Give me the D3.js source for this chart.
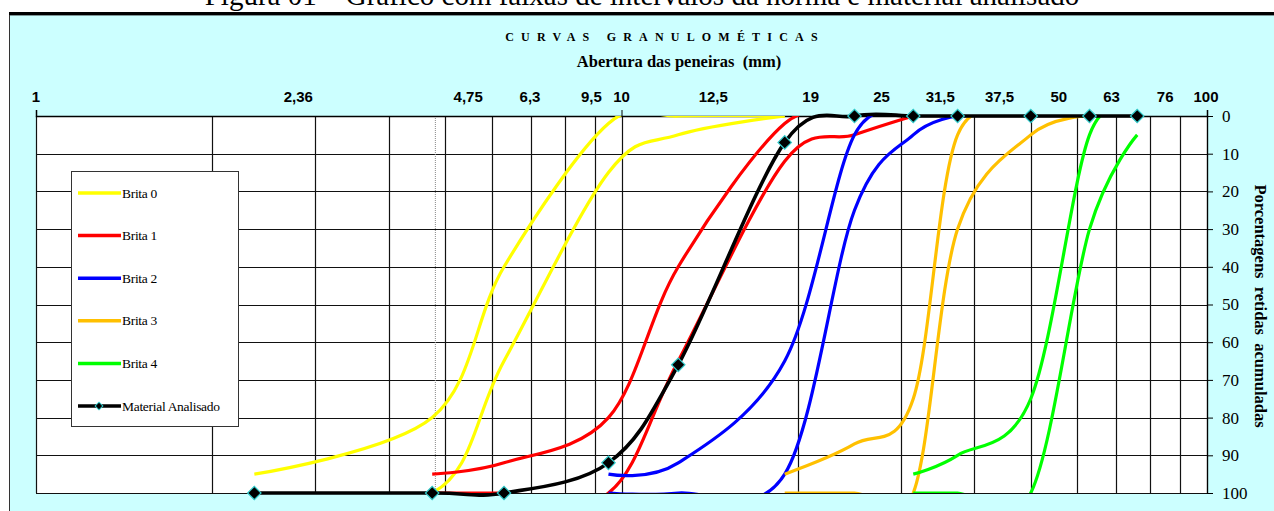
<!DOCTYPE html>
<html>
<head>
<meta charset="utf-8">
<script src="https://cdn.jsdelivr.net/npm/d3@7/dist/d3.min.js"></script>
<style>
    body { margin: 0; background: #fff; }
    svg { display: block; }
</style>
</head>
<body>
<svg id="chart" width="1274" height="511"></svg>
<script>

// Abertura das peneiras (mm)
var sieves = [2.36, 4.75, 6.3, 9.5, 12.5, 19, 25, 31.5, 37.5, 50, 63, 76];

// Porcentagens retidas acumuladas - limites da norma (null = sem valor)
var brita0Inf = [95, 80, 40, 2, 0, 0, null, null, null, null, null, null];
var brita0Sup = [100, 100, 65, 15, 5, 0, null, null, null, null, null, null];
var brita1Inf = [null, 95, 92, 80, 40, 2, 0, null, null, null, null, null];
var brita1Sup = [null, 100, 100, 100, 65, 12, 5, 0, null, null, null, null];
var brita2Inf = [null, null, null, 95, 92, 65, 5, 0, null, null, null, null];
var brita2Sup = [null, null, null, 100, 100, 95, 25, 5, 0, null, null, null];
var brita3Inf = [null, null, null, null, null, 95, 87, 75, 5, 0, null, null];
var brita3Sup = [null, null, null, null, null, 100, 100, 100, 30, 5, 0, null];
var brita4Inf = [null, null, null, null, null, null, null, 95, 90, 75, 5, 0];
var brita4Sup = [null, null, null, null, null, null, null, 100, 100, 100, 30, 5];

// Material analisado
var material = [100, 100, 100, 92, 66, 7, 0, 0, 0, 0, 0, 0];

var seriesNames = ["Brita 0", "Brita 1", "Brita 2", "Brita 3", "Brita 4"];
var seriesColors = ["#FFFF00", "#FF0000", "#0000FF", "#FFC000", "#00FF00"];
var seriesLimits = [
    [brita0Inf, brita0Sup],
    [brita1Inf, brita1Sup],
    [brita2Inf, brita2Sup],
    [brita3Inf, brita3Sup],
    [brita4Inf, brita4Sup]
];

// rotulos do eixo superior (digitados no grafico original)
var topLabels = ["1", "2,36", "4,75", "6,3", "9,5", "10", "12,5", "19", "25", "31,5", "37,5", "50", "63", "76", "100"];
var topLabelValues = [1, 2.36, 4.75, 6.3, 9.5, 10, 12.5, 19, 25, 31.5, 37.5, 50, 63, 76, 100];
var topLabelNudge = [0, 44, 36, 26, -17, 0, 35, 26, 27, 27, 42, 28, 22, 28, -1];

var yTicks = [0, 10, 20, 30, 40, 50, 60, 70, 80, 90, 100];

var svg = d3.select("#chart");

var plot = { left: 36, right: 1207, top: 116, bottom: 493 };

var x = d3.scaleLog().domain([1, 100]).range([plot.left, plot.right]);
var y = d3.scaleLinear().domain([0, 100]).range([plot.top, plot.bottom]);

// titulo da figura (cortado no topo, como no original)
svg.append("text")
    .attr("x", 642)
    .attr("y", 5)
    .attr("text-anchor", "middle")
    .style("font-family", "'Liberation Serif', 'Times New Roman', serif")
    .style("font-size", "29px")
    .text("Figura 01 – Gráfico com faixas de intervalos da norma e material analisado");

// fundo do grafico
svg.append("rect")
    .attr("x", 9.5)
    .attr("y", 15)
    .attr("width", 1270)
    .attr("height", 500)
    .style("fill", "#CCFFFF")
    .style("stroke", "#333")
    .style("stroke-width", 1);

svg.append("line")
    .attr("x1", 9).attr("x2", 1274)
    .attr("y1", 13.5).attr("y2", 13.5)
    .style("stroke", "#000")
    .style("stroke-width", 3);

svg.append("text")
    .attr("x", 665)
    .attr("y", 41)
    .attr("text-anchor", "middle")
    .style("font-family", "'Liberation Serif', serif")
    .style("font-weight", "bold")
    .style("font-size", "12px")
    .style("letter-spacing", "7.2px")
    .text("CURVAS GRANULOMÉTICAS");

svg.append("text")
    .attr("x", 679)
    .attr("y", 67)
    .attr("text-anchor", "middle")
    .style("font-family", "'Liberation Serif', serif")
    .style("font-weight", "bold")
    .style("font-size", "16.5px")
    .style("white-space", "pre")
    .text("Abertura das peneiras  (mm)");

// area de plotagem
svg.append("rect")
    .attr("x", plot.left)
    .attr("y", plot.top)
    .attr("width", plot.right - plot.left)
    .attr("height", plot.bottom - plot.top)
    .style("fill", "#fff");

svg.append("clipPath")
    .attr("id", "plot-clip")
    .append("rect")
    .attr("x", plot.left)
    .attr("y", plot.top)
    .attr("width", plot.right - plot.left)
    .attr("height", plot.bottom - plot.top);

// grade
var grid = svg.append("g").attr("class", "grid");

grid.selectAll("line.v")
    .data(x.ticks())
    .enter().append("line")
    .attr("class", "v")
    .attr("x1", function(d) { return Math.round(x(d)) + 0.5; })
    .attr("x2", function(d) { return Math.round(x(d)) + 0.5; })
    .attr("y1", plot.top)
    .attr("y2", plot.bottom)
    .style("stroke", "#111")
    .style("stroke-width", 1.2);

grid.selectAll("line.h")
    .data(yTicks)
    .enter().append("line")
    .attr("class", "h")
    .attr("x1", plot.left)
    .attr("x2", plot.right)
    .attr("y1", function(d) { return Math.round(y(d)) + 0.5; })
    .attr("y2", function(d) { return Math.round(y(d)) + 0.5; })
    .style("stroke", "#111")
    .style("stroke-width", 1.2);

// linha pontilhada da peneira 4,75
grid.append("line")
    .attr("x1", x(4.8) + 0.5)
    .attr("x2", x(4.8) + 0.5)
    .attr("y1", plot.top)
    .attr("y2", plot.bottom)
    .style("stroke", "#888")
    .style("stroke-width", 1)
    .style("stroke-dasharray", "1,1");

// eixo superior
var topAxis = svg.append("g")
    .attr("transform", "translate(0," + plot.top + ")")
    .call(d3.axisTop(x).tickValues([1, 10, 100]).tickSize(6).tickFormat(""));
topAxis.select(".domain").style("stroke", "#000").style("stroke-width", 1.5);

svg.append("g").selectAll("text")
    .data(topLabels)
    .enter().append("text")
    .attr("x", function(d, i) { return x(topLabelValues[i]) + topLabelNudge[i]; })
    .attr("y", 102)
    .attr("text-anchor", "middle")
    .style("font-family", "'Liberation Sans', Arial, sans-serif")
    .style("font-weight", "bold")
    .style("font-size", "15px")
    .text(function(d) { return d; });

// eixo da direita
var rightAxis = svg.append("g")
    .attr("transform", "translate(" + plot.right + ",0)")
    .call(d3.axisRight(y).tickValues(yTicks).tickSize(6).tickPadding(9));
rightAxis.select(".domain").style("stroke", "#000").style("stroke-width", 1.2);
rightAxis.selectAll("text")
    .style("font-family", "'Liberation Serif', serif")
    .style("font-size", "17px")
    .style("fill", "#000");

svg.append("text")
    .attr("transform", "translate(1255,306) rotate(90)")
    .attr("text-anchor", "middle")
    .style("font-family", "'Liberation Serif', serif")
    .style("font-weight", "bold")
    .style("font-size", "16.5px")
    .style("white-space", "pre")
    .text("Porcentagens  retidas  acumuladas");

// curvas
var line = d3.line()
    .defined(function(d) { return d[1] != null; })
    .x(function(d) { return x(d[0]); })
    .y(function(d) { return y(d[1]); })
    .curve(d3.curveCatmullRom.alpha(0));

function pairs(values) {
    return sieves.map(function(s, i) { return [s, values[i]]; })
        .filter(function(d) { return d[1] != null; });
}

var curves = svg.append("g").attr("clip-path", "url(#plot-clip)");

seriesLimits.forEach(function(limits, i) {
    limits.forEach(function(values) {
        curves.append("path")
            .attr("d", line(pairs(values)))
            .style("fill", "none")
            .style("stroke", seriesColors[i])
            .style("stroke-width", 3.2)
            .style("stroke-linejoin", "round");
    });
});

svg.append("path")
    .attr("d", line(pairs(material)))
    .style("fill", "none")
    .style("stroke", "#000")
    .style("stroke-width", 3.6);

var diamond = d3.symbol().type(d3.symbolSquare).size(90);

svg.append("g").selectAll("path")
    .data(pairs(material))
    .enter().append("path")
    .attr("d", diamond)
    .attr("transform", function(d) {
        return "translate(" + x(d[0]) + "," + y(d[1]) + ") rotate(45)";
    })
    .style("fill", "#000")
    .style("stroke", "#33CCCC")
    .style("stroke-width", 1.2);

// legenda
var legend = svg.append("g").attr("transform", "translate(71,171)");

legend.append("rect")
    .attr("x", 0.5)
    .attr("y", 0.5)
    .attr("width", 167)
    .attr("height", 255)
    .style("fill", "#fff")
    .style("stroke", "#333")
    .style("stroke-width", 1);

var legendNames = seriesNames.concat(["Material Analisado"]);
var legendColors = seriesColors.concat(["#000"]);

var item = legend.selectAll("g.item")
    .data(legendNames)
    .enter().append("g")
    .attr("class", "item")
    .attr("transform", function(d, i) { return "translate(0," + (22 + i * 42.6) + ")"; });

item.append("line")
    .attr("x1", 7)
    .attr("x2", 50)
    .style("stroke", function(d, i) { return legendColors[i]; })
    .style("stroke-width", 3.5);

item.filter(function(d, i) { return i === legendNames.length - 1; })
    .append("path")
    .attr("d", d3.symbol().type(d3.symbolSquare).size(30))
    .attr("transform", "translate(28,0) rotate(45)")
    .style("fill", "#000")
    .style("stroke", "#33CCCC")
    .style("stroke-width", 1);

item.append("text")
    .attr("x", 51)
    .attr("y", 4.5)
    .style("font-family", "'Liberation Serif', serif")
    .style("font-size", "13.5px")
    .style("letter-spacing", "-0.3px")
    .text(function(d) { return d; });

</script>
</body>
</html>
